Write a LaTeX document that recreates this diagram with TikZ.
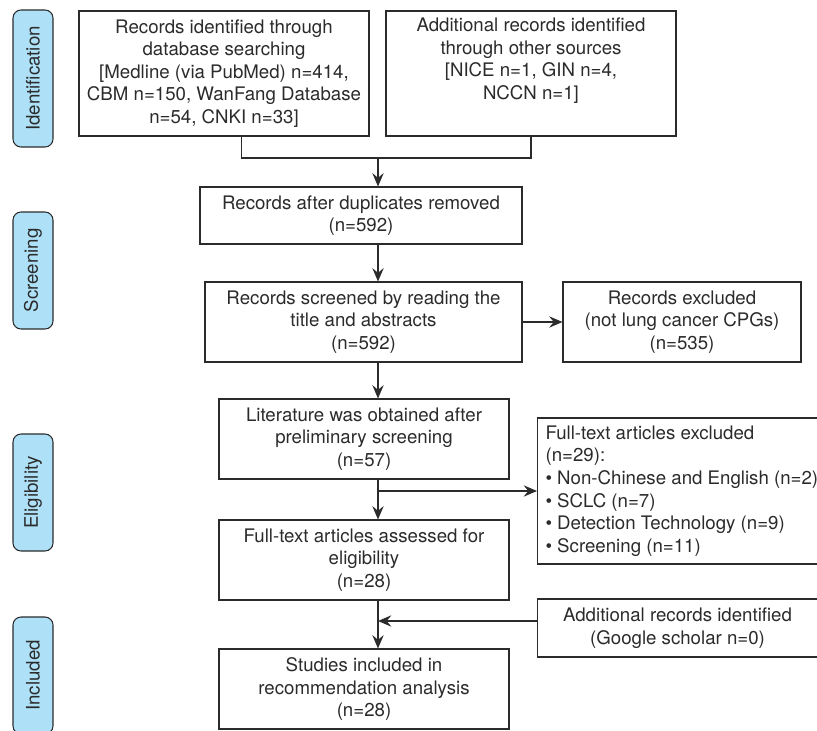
\documentclass[tikz,border=0pt]{standalone}
\usepackage{fontspec}
\setmainfont{TeX Gyre Heros}
\usepackage{xcolor}
\usetikzlibrary{arrows.meta, positioning, calc}
\definecolor{stageblue}{HTML}{AEE1F7}
\definecolor{linegray}{HTML}{2B2B2B}

\begin{document}
\begin{tikzpicture}[x=0.75pt, y=-0.75pt,
  box/.style={rectangle, draw=linegray, line width=0.8pt, align=center, text=linegray, font=\fontsize{14}{16.9}\selectfont},
  stage/.style={rectangle, draw=linegray, fill=stageblue, line width=0.8pt, rounded corners=6pt, rotate=90, minimum width=87.75pt, minimum height=30pt, text=linegray, font=\fontsize{14}{16.9}\selectfont},
  arrow/.style={-{Stealth[length=10pt, width=8.5pt, inset=3.5pt]}, line width=0.8pt, draw=linegray},
  line/.style={line width=0.8pt, draw=linegray}
]
  \useasboundingbox (0,0) rectangle (817,731);

  % Stages
  \node[stage, minimum width=102.75pt] (identification) at (33,78.5) {Identification};
  \node[stage] (screening) at (33,270.5) {Screening};
  \node[stage] (eligibility) at (33,492.5) {Eligibility};
  \node[stage] (included) at (33,675.5) {Included};

  % Identification
  \node[box, minimum width=217.5pt, minimum height=93.75pt] (database) at (224,73.5) {Records identified through\\database searching\\{[Medline (via PubMed) n=414,}\\CBM n=150, WanFang Database\\n=54, CNKI n=33]};
  \node[box, minimum width=217.5pt, minimum height=93.75pt] (other) at (531,73.5) {Additional records identified\\through other sources\\{[NICE n=1, GIN n=4,}\\NCCN n=1]\\\strut};

  % Screening
  \node[box, minimum width=241.5pt, minimum height=42.75pt] (dupl) at (361,215.5) {Records after duplicates removed\\(n=592)};
  \node[box, minimum width=237.75pt, minimum height=60pt] (screened) at (363.5,322) {Records screened by reading the\\title and abstracts\\(n=592)};
  \node[box, minimum width=178.5pt, minimum height=60pt] (excluded) at (682,322) {Records excluded\\(not lung cancer CPGs)\\(n=535)};

  % Eligibility
  \node[box, minimum width=217.5pt, minimum height=60pt] (prelim) at (364,439) {Literature was obtained after\\preliminary screening\\(n=57)};
  \node[box, minimum width=216pt, minimum height=109.5pt, align=left, inner xsep=6pt, anchor=west] (fulltextex) at (537,491) {Full-text articles excluded\\(n=29):\\\textbullet{} Non-Chinese and English (n=2)\\\textbullet{} SCLC (n=7)\\\textbullet{} Detection Technology (n=9)\\\textbullet{} Screening (n=11)};
  \node[box, minimum width=217.5pt, minimum height=60pt] (fulltext) at (364,560) {Full-text articles assessed for\\eligibility\\(n=28)};

  % Included
  \node[box, minimum width=216pt, minimum height=43.5pt, anchor=west] (google) at (537,628) {\hspace*{-6pt}Additional records identified\\\hspace*{-6pt}(Google scholar n=0)};
  \node[box, minimum width=217.5pt, minimum height=60pt] (studies) at (364,689) {Studies included in\\recommendation analysis\\(n=28)};

  % Connectors
  \coordinate (trunk) at (378,158);
  \draw[line] ($(database.south west)!0.56!(database.south east)$) |- (trunk) -| (other.south);
  \draw[arrow] (trunk) -- (trunk |- dupl.north);
  \draw[arrow] (dupl.south -| trunk) -- (screened.north -| trunk);
  \draw[arrow] (screened.east) -- (excluded.west);
  \draw[arrow] (screened.south -| trunk) -- (prelim.north -| trunk);
  \draw[arrow] (prelim.south -| trunk) -- (fulltext.north -| trunk);
  \draw[arrow] (prelim.south -| trunk) |- (fulltextex.west);
  \draw[arrow] (fulltext.south -| trunk) -- (studies.north -| trunk);
  \draw[arrow] ([yshift=5.25pt]google.west) -- ([yshift=5.25pt]google.west -| trunk);
\end{tikzpicture}
\end{document}
